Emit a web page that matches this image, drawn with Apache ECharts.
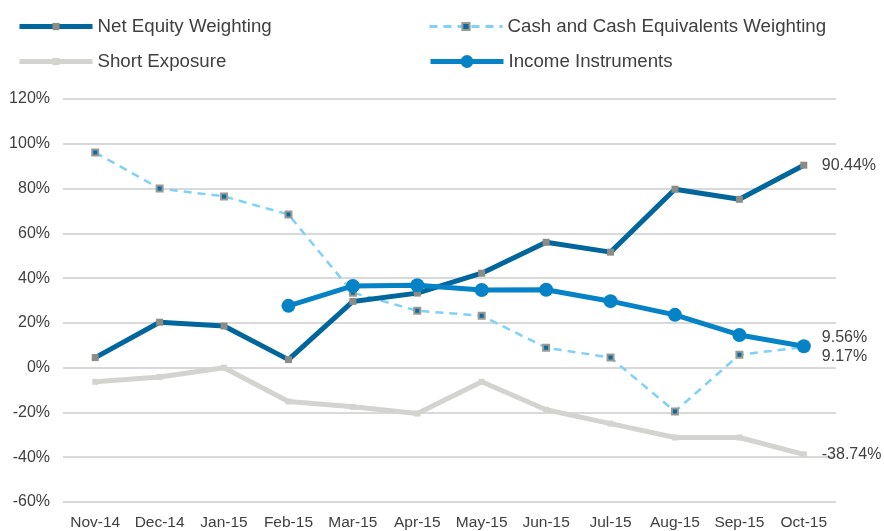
<!DOCTYPE html>
<html>
<head>
<meta charset="utf-8">
<script src="https://cdn.jsdelivr.net/npm/echarts@6/dist/echarts.min.js"></script>
<style>
  html, body { margin: 0; padding: 0; background: #fff; }
  #chart { width: 884px; height: 531px; }
</style>
</head>
<body>
<div id="chart"></div>
<script>
const months = ['Nov-14', 'Dec-14', 'Jan-15', 'Feb-15', 'Mar-15', 'Apr-15', 'May-15', 'Jun-15', 'Jul-15', 'Aug-15', 'Sep-15', 'Oct-15']
const netEquity = [4.5, 20.3, 18.6, 3.6, 29.6, 33.3, 42.2, 56, 51.6, 79.7, 75.2, 90.44]
const cashEquiv = [96.1, 80, 76.5, 68.4, 33.5, 25.4, 23.2, 8.9, 4.5, -19.6, 5.8, 9.17]
const shortExposure = [-6.3, -4.2, 0, -15.1, -17.5, -20.5, -6.3, -18.8, -25, -31.2, -31.2, -38.74]
const incomeInstr = [null, null, null, 27.6, 36.5, 36.8, 34.7, 34.8, 29.7, 23.6, 14.6, 9.56]

const FONT = 'Liberation Sans'
const TEXT = '#404040'

const chart = echarts.init(document.getElementById('chart'), null, { renderer: 'canvas' })

// one legend per item so the two-column layout can be placed by hand
function legendAt(name, left, top, iconH, lineWidth) {
  return {
    data: [name],
    left,
    top,
    itemWidth: 73,
    itemHeight: iconH,
    lineStyle: { width: lineWidth },
    textStyle: { color: TEXT, fontSize: 18.7, fontFamily: FONT },
    selectedMode: false,
  }
}

function endLabel(offsetY) {
  return {
    show: true,
    formatter: (p) => {
      const v = Array.isArray(p.value) ? p.value[1] : p.value
      return v == null ? '' : Number(v).toFixed(2) + '%'
    },
    color: TEXT,
    fontSize: 16,
    fontFamily: FONT,
    distance: 18,
    offset: [0, offsetY],
  }
}

chart.setOption({
  animation: false,
  backgroundColor: '#fff',
  legend: [
    legendAt('Net Equity Weighting', 12, 12, 9, 5),
    legendAt('Cash and Cash Equivalents Weighting', 423, 12, 9, 3),
    legendAt('Short Exposure', 12, 47, 9, 5),
    legendAt('Income Instruments', 423, 47, 16, 5),
  ],
  grid: { left: 63, right: 48, top: 99, bottom: 28 },
  xAxis: {
    type: 'category',
    data: months,
    boundaryGap: true,
    axisLine: { show: false },
    axisTick: { show: false },
    axisLabel: { color: TEXT, fontSize: 15.5, fontFamily: FONT, margin: 13, interval: 0 },
  },
  yAxis: {
    type: 'value',
    min: -60,
    max: 120,
    interval: 20,
    axisLabel: { color: TEXT, fontSize: 16, fontFamily: FONT, margin: 13, formatter: '{value}%' },
    splitLine: { lineStyle: { color: '#d9d9d9', width: 2 } },
  },
  series: [
    {
      name: 'Short Exposure',
      type: 'line',
      data: shortExposure,
      symbol: 'rect',
      symbolSize: 6,
      lineStyle: { color: '#d3d3cf', width: 5 },
      itemStyle: { color: '#d3d3cf' },
      endLabel: endLabel(0),
      z: 1,
    },
    {
      name: 'Cash and Cash Equivalents Weighting',
      type: 'line',
      data: cashEquiv,
      symbol: 'rect',
      symbolSize: 6,
      lineStyle: { color: '#7fd1f7', width: 2.5, type: [8, 6] },
      itemStyle: { color: '#0a6aa1', borderColor: '#9a9a95', borderWidth: 2 },
      endLabel: endLabel(9),
      z: 2,
    },
    {
      name: 'Net Equity Weighting',
      type: 'line',
      data: netEquity,
      symbol: 'rect',
      symbolSize: 7,
      lineStyle: { color: '#00669c', width: 5 },
      itemStyle: { color: '#8c8c87' },
      endLabel: endLabel(0),
      z: 3,
    },
    {
      name: 'Income Instruments',
      type: 'line',
      data: incomeInstr,
      symbol: 'circle',
      symbolSize: 14,
      lineStyle: { color: '#0683c6', width: 5 },
      itemStyle: { color: '#0683c6' },
      endLabel: endLabel(-9),
      z: 4,
    },
  ],
})
</script>
</body>
</html>
